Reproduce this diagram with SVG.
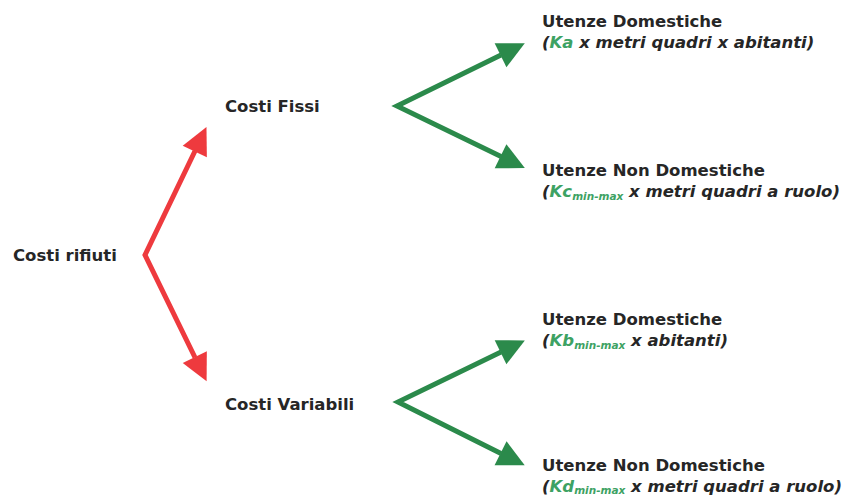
<svg xmlns="http://www.w3.org/2000/svg" width="852" height="497" viewBox="0 0 852 497">
  <style>
    .t { font-family: "DejaVu Sans", "Liberation Sans", sans-serif; font-weight: bold; font-size: 16.5px; fill: #262626; }
    .it { font-style: italic; }
    .g { fill: #3da263; }
    .sub { font-size: 10.5px; }
    .red { fill: none; stroke: #ee3a3e; stroke-width: 5; stroke-linejoin: miter; stroke-miterlimit: 10; }
    .grn { fill: none; stroke: #2b8a4b; stroke-width: 5; stroke-linejoin: miter; stroke-miterlimit: 10; }
  </style>
  <defs>
    <marker id="hr" markerUnits="userSpaceOnUse" markerWidth="30" markerHeight="30" viewBox="0 -15 30 30" refX="0.5" refY="0" orient="auto-start-reverse" overflow="visible">
      <path d="M0,-13.4 L27,0 L0,13.4 Z" fill="#ee3a3e"/>
    </marker>
    <marker id="hg" markerUnits="userSpaceOnUse" markerWidth="30" markerHeight="30" viewBox="0 -15 30 30" refX="0.5" refY="0" orient="auto-start-reverse" overflow="visible">
      <path d="M0,-13.4 L27,0 L0,13.4 Z" fill="#2b8a4b"/>
    </marker>
  </defs>

  <g id="connectors">
    <polyline class="red" points="195,151 145,255 195,357.5" marker-start="url(#hr)" marker-end="url(#hr)"/>
    <polyline class="grn" points="501,55 397,106 501,156.5" marker-start="url(#hg)" marker-end="url(#hg)"/>
    <polyline class="grn" points="501,352 398,402 501,453.5" marker-start="url(#hg)" marker-end="url(#hg)"/>
  </g>

  <g id="costi-rifiuti">
    <text class="t" x="13" y="261">Costi rifiuti</text>
  </g>
  <g id="costi-fissi">
    <text class="t" x="225" y="112">Costi Fissi</text>
  </g>
  <g id="costi-variabili">
    <text class="t" x="225" y="410">Costi Variabili</text>
  </g>

  <g id="fissi-domestiche">
    <text class="t" x="542" y="27">Utenze Domestiche</text>
    <text class="t it" x="542" y="48">(<tspan class="g">Ka</tspan> x metri quadri x abitanti)</text>
  </g>
  <g id="fissi-non-domestiche">
    <text class="t" x="542" y="176">Utenze Non Domestiche</text>
    <text class="t it" x="542" y="197">(<tspan class="g">Kc</tspan><tspan class="g sub" dy="3">min-max</tspan><tspan dy="-3"> x metri quadri a ruolo)</tspan></text>
  </g>
  <g id="variabili-domestiche">
    <text class="t" x="542" y="325">Utenze Domestiche</text>
    <text class="t it" x="542" y="346">(<tspan class="g">Kb</tspan><tspan class="g sub" dy="3">min-max</tspan><tspan dy="-3"> x abitanti)</tspan></text>
  </g>
  <g id="variabili-non-domestiche">
    <text class="t" x="542" y="471">Utenze Non Domestiche</text>
    <text class="t it" x="542" y="492">(<tspan class="g">Kd</tspan><tspan class="g sub" dy="2">min-max</tspan><tspan dy="-2"> x metri quadri a ruolo)</tspan></text>
  </g>
</svg>
